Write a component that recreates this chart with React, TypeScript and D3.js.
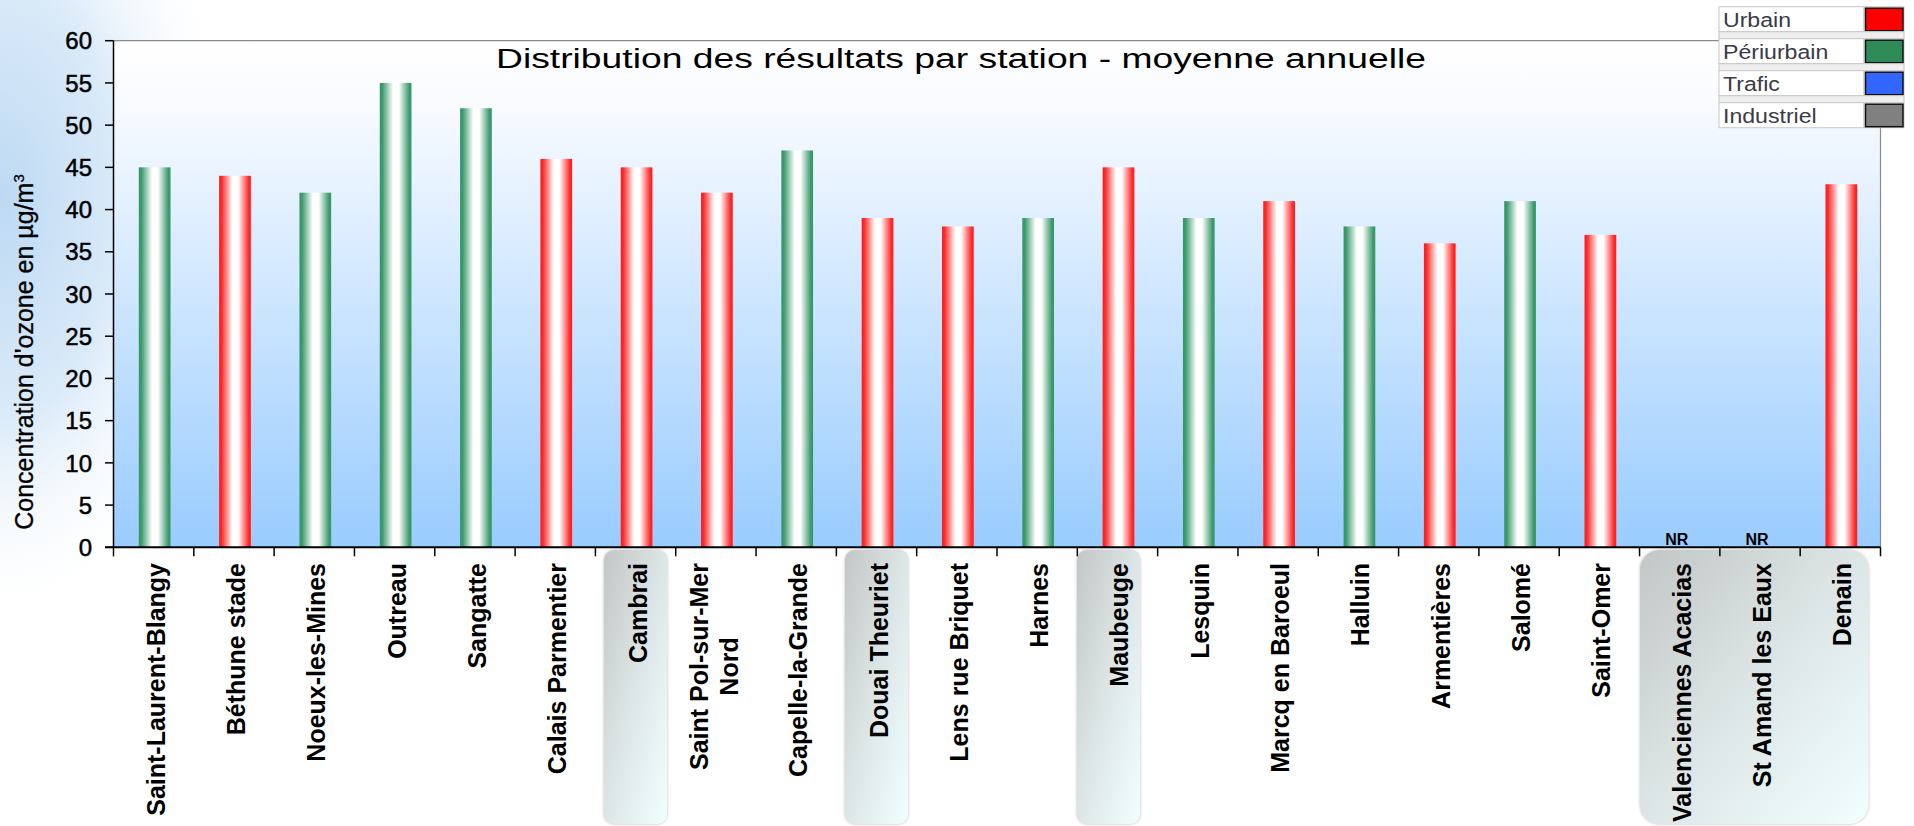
import React from 'react';
import * as d3 from 'd3';

const stations: string[] = [
  'Saint-Laurent-Blangy', 'Béthune stade', 'Noeux-les-Mines', 'Outreau', 'Sangatte',
  'Calais Parmentier', 'Cambrai', 'Saint Pol-sur-Mer\nNord', 'Capelle-la-Grande', 'Douai Theuriet',
  'Lens rue Briquet', 'Harnes', 'Maubeuge', 'Lesquin', 'Marcq en Baroeul', 'Halluin',
  'Armentières', 'Salomé', 'Saint-Omer', 'Valenciennes Acacias', 'St Amand les Eaux', 'Denain',
];
const values: (number | null)[] = [
  45, 44, 42, 55, 52, 46, 45, 42, 47, 39, 38, 39, 45, 39, 41, 38, 36, 41, 37, null, null, 43,
];
const types: string[] = [
  'P', 'U', 'P', 'P', 'P', 'U', 'U', 'U', 'P', 'U', 'U', 'P', 'U', 'P', 'U', 'P', 'U', 'P', 'U', 'U', 'U', 'U',
];
const yTicks: number[] = [0, 5, 10, 15, 20, 25, 30, 35, 40, 45, 50, 55, 60];
const legendLabels: string[] = ['Urbain', 'Périurbain', 'Trafic', 'Industriel'];
const legendColors: string[] = ['#ff0000', '#2e8b57', '#3366ff', '#808080'];
// highlighted label groups: [first category index, last category index]
const highlightGroups: [number, number][] = [[6, 6], [9, 9], [12, 12], [19, 21]];

const TITLE = 'Distribution des résultats par station - moyenne annuelle';
const FONT = "'Liberation Sans', Arial, sans-serif";

const W = 1914;
const H = 826;
const PL = 113.5, PR = 1880.5, PT = 40.7, PB = 547.3;

function measure(text: string, font: string): number {
  const c = document.createElement('canvas').getContext('2d');
  if (!c) return text.length * 12;
  c.font = font;
  return c.measureText(text).width;
}

export default function App() {
  const x = d3.scaleBand<string>().domain(stations).range([PL, PR]).padding(0);
  const y = d3.scaleLinear().domain([0, 60]).range([PB, PT]);
  const bw = x.bandwidth();
  const barW = bw * 0.395;
  const cx = (s: string) => (x(s) as number) + bw / 2;
  const labelFont = `bold 25px ${FONT}`;

  const boxes = highlightGroups.map(([a, b], i) => {
    if (a === b) {
      const shift = stations[a] === 'Maubeuge' ? -9 : 0;
      const c = cx(stations[a]) + shift;
      return { key: i, x0: c - 31.5, x1: c + 31.5, r: 10 };
    }
    return { key: i, x0: (x(stations[a]) as number) + 0.5, x1: (x(stations[b]) as number) + bw - 12, r: 20 };
  });

  return (
    <svg width={W} height={H} style={{ position: 'absolute', left: 0, top: 0, display: 'block' }} fontFamily={FONT}>
      <defs>
        <radialGradient id="bgwash" cx="0" cy="200" r="1" gradientUnits="userSpaceOnUse"
          gradientTransform="translate(0,200) scale(240,430) translate(0,-200)">
          <stop offset="0" stopColor="#bcd9f3" stopOpacity="1" />
          <stop offset="0.5" stopColor="#d6e8f8" stopOpacity="0.9" />
          <stop offset="1" stopColor="#ffffff" stopOpacity="0" />
        </radialGradient>
        <linearGradient id="plotbg" x1="0" y1="0" x2="0" y2="1">
          <stop offset="0" stopColor="#ffffff" />
          <stop offset="0.12" stopColor="#f9fbff" />
          <stop offset="1" stopColor="#99ccff" />
        </linearGradient>
        <linearGradient id="gradU" x1="0" y1="0" x2="1" y2="0">
          <stop offset="0" stopColor="#ff1a1a" />
          <stop offset="0.08" stopColor="#ff2a2a" />
          <stop offset="0.42" stopColor="#ffffff" />
          <stop offset="0.6" stopColor="#ffffff" />
          <stop offset="0.93" stopColor="#ff2a2a" />
          <stop offset="1" stopColor="#ff1a1a" />
        </linearGradient>
        <linearGradient id="gradP" x1="0" y1="0" x2="1" y2="0">
          <stop offset="0" stopColor="#36966a" />
          <stop offset="0.08" stopColor="#3c9a6c" />
          <stop offset="0.42" stopColor="#ffffff" />
          <stop offset="0.6" stopColor="#ffffff" />
          <stop offset="0.93" stopColor="#3c9a6c" />
          <stop offset="1" stopColor="#36966a" />
        </linearGradient>
        <linearGradient id="boxgrad" x1="0" y1="0" x2="1" y2="1">
          <stop offset="0" stopColor="#c2c6c6" />
          <stop offset="0.5" stopColor="#dde6e6" />
          <stop offset="1" stopColor="#f2ffff" />
        </linearGradient>
        <filter id="boxshadow" x="-20%" y="-5%" width="140%" height="110%">
          <feGaussianBlur in="SourceAlpha" stdDeviation="1.5" />
          <feOffset dx="0" dy="0" result="b" />
          <feFlood floodColor="#888" floodOpacity="0.6" />
          <feComposite in2="b" operator="in" />
          <feMerge>
            <feMergeNode />
            <feMergeNode in="SourceGraphic" />
          </feMerge>
        </filter>
      </defs>

      <rect x={0} y={0} width={W} height={H} fill="#ffffff" />
      <rect x={0} y={0} width={W} height={H} fill="url(#bgwash)" />

      {/* highlight boxes behind labels */}
      {boxes.map((b) => (
        <rect key={b.key} x={b.x0} y={550} width={b.x1 - b.x0} height={274} rx={b.r} ry={b.r}
          fill="url(#boxgrad)" filter="url(#boxshadow)" />
      ))}

      {/* plot area */}
      <rect x={PL} y={PT} width={PR - PL} height={PB - PT} fill="url(#plotbg)" />
      <line x1={PL} y1={PT} x2={PR} y2={PT} stroke="#8a8a8a" strokeWidth={1.2} />
      <line x1={PR} y1={PT} x2={PR} y2={PB} stroke="#8a8a8a" strokeWidth={1.2} />

      {/* bars */}
      {stations.map((s, i) => {
        const v = values[i];
        if (v === null) return null;
        return (
          <rect key={s} x={cx(s) - barW / 2 + 1} y={y(v)} width={barW} height={PB - y(v)}
            fill={types[i] === 'U' ? 'url(#gradU)' : 'url(#gradP)'} />
        );
      })}

      {/* NR markers */}
      {stations.map((s, i) => values[i] === null ? (
        <text key={'nr' + s} x={cx(s) - 3} y={545} textAnchor="middle" fontSize={16} fontWeight="bold" fill="#000">NR</text>
      ) : null)}

      {/* y axis */}
      <line x1={PL} y1={PT} x2={PL} y2={PB} stroke="#000" strokeWidth={1.5} />
      {yTicks.map((t) => (
        <g key={t}>
          <line x1={105} x2={PL} y1={y(t)} y2={y(t)} stroke="#000" strokeWidth={1.5} />
          <text x={92} y={y(t)} dy="0.36em" textAnchor="end" fontSize={24} fill="#000"
            stroke="#000" strokeWidth={0.5}>{t}</text>
        </g>
      ))}

      {/* x axis */}
      <line x1={105} x2={PR} y1={PB} y2={PB} stroke="#000" strokeWidth={2} />
      {d3.range(stations.length + 1).map((i) => {
        const xx = PL + i * bw;
        return <line key={'xt' + i} x1={xx} x2={xx} y1={PB} y2={PB + 9} stroke="#000" strokeWidth={1.5} />;
      })}

      {/* category labels */}
      {stations.map((s) => {
        const c = cx(s);
        const lines = s.split('\n');
        if (lines.length === 1) {
          return (
            <text key={'l' + s} transform={`translate(${c + 11},563) rotate(-90)`} textAnchor="end"
              fontSize={25} fontWeight="bold" fill="#000">{s}</text>
          );
        }
        const w1 = measure(lines[0], labelFont);
        return (
          <g key={'l' + s}>
            <text transform={`translate(${c - 8},563) rotate(-90)`} textAnchor="end"
              fontSize={25} fontWeight="bold" fill="#000">{lines[0]}</text>
            <text transform={`translate(${c + 22},${563 + w1 / 2}) rotate(-90)`} textAnchor="middle"
              fontSize={25} fontWeight="bold" fill="#000">{lines[1]}</text>
          </g>
        );
      })}

      {/* y axis title */}
      <text transform="translate(33,352) rotate(-90)" textAnchor="middle" fontSize={25} fill="#000"
        stroke="#000" strokeWidth={0.3}>
        Concentration d'ozone en µg/m<tspan fontSize={15} dy={-9}>3</tspan>
      </text>

      {/* title */}
      <text x={961} y={68} textAnchor="middle" fontSize={27} fill="#000"
        textLength={930} lengthAdjust="spacingAndGlyphs">{TITLE}</text>

      {/* legend */}
      <g>
        {legendLabels.map((lab, i) => {
          const top = 6.7 + i * 32;
          return (
            <g key={lab}>
              {i > 0 && (
                <rect x={1719} y={top - 7} width={185} height={7} fill="#eeeeee" stroke="#c8c8c8" strokeWidth={1} />
              )}
              <rect x={1719} y={top} width={145} height={25} fill="#ffffff" stroke="#c8c8c8" strokeWidth={1} />
              <rect x={1864} y={top} width={40} height={25} fill="#ffffff" stroke="#c8c8c8" strokeWidth={1} />
              <rect x={1865.5} y={top + 1.5} width={37.5} height={22.5} fill={legendColors[i]} stroke="#111" strokeWidth={1.5} />
              <text transform={`translate(1723,${top + 20}) scale(1.1,1)`} fontSize={21} fill="#3a3a48">{lab}</text>
            </g>
          );
        })}
      </g>
    </svg>
  );
}
